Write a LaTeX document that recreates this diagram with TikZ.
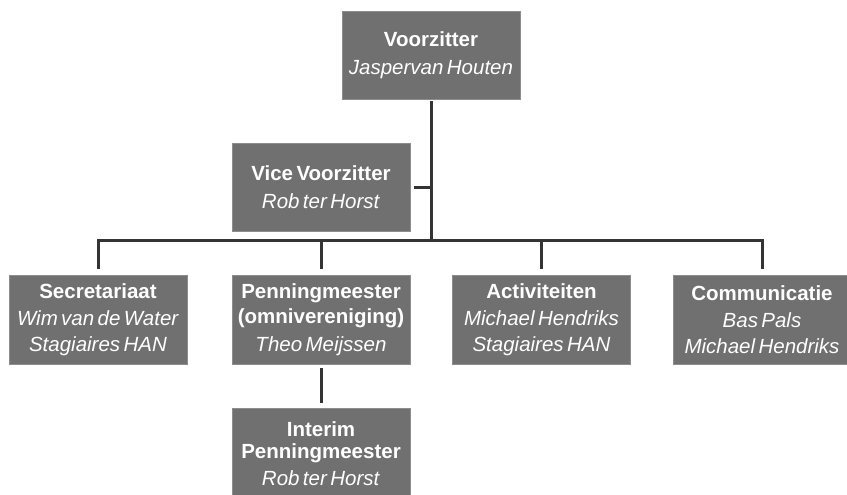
\documentclass[tikz,border=0pt]{standalone}
\usepackage{fontspec}
\setmainfont{Liberation Sans}[WordSpace=0.6]
\definecolor{boxgray}{RGB}{112,112,112}
\definecolor{linegray}{RGB}{52,52,52}
\tikzset{
  orgbox/.style={fill=boxgray, draw=boxgray!80!white, line width=0.8pt, minimum width=178pt, minimum height=88pt,
    inner sep=0pt, align=center, text=white, font=\fontsize{20.5}{27.5}\selectfont},
  conn/.style={draw=linegray, line width=3pt}
}
\begin{document}
\begin{tikzpicture}[x=1pt,y=-1pt]
\useasboundingbox (0,0) rectangle (847,495);
\fill[white] (0,0) rectangle (847,495);
\node[orgbox] (vz) at (431,55) {\textbf{Voorzitter}\\\textit{Jaspervan Houten}};
\node[orgbox] (vice) at (321,187) {\textbf{Vice Voorzitter}\\\textit{Rob ter Horst}};
\node[orgbox, minimum height=89pt] (sec) at (98,319.5) {\textbf{Secretariaat}\\\textit{Wim van de Water}\\[-2pt]\textit{Stagiaires HAN}};
\node[orgbox, minimum height=89pt] (pen) at (321,319.5) {\textbf{Penningmeester}\\[-2pt]\textbf{(omnivereniging)}\\\textit{Theo Meijssen}};
\node[orgbox, minimum height=89pt] (act) at (541.5,319.5) {\textbf{Activiteiten}\\\textit{Michael Hendriks}\\[-2pt]\textit{Stagiaires HAN}};
\node[orgbox, minimum height=89pt] (com) at (762,319.5) {\textbf{Communicatie}\\\textit{Bas Pals}\\[-2pt]\textit{Michael Hendriks}};
\node[orgbox, minimum height=92pt] (int) at (321,454) {\textbf{Interim}\\[-6pt]\textbf{Penningmeester}\\\textit{Rob ter Horst}};
\coordinate (bus) at (431,240);
\draw[conn, shorten <=2pt] (vz.south) -- (bus);
\draw[conn, shorten <=4pt] (vice.east) -- (vice.east -| bus);
\draw[conn, line cap=rect] (sec.north |- bus) -- (com.north |- bus);
\foreach \n in {sec,pen,act,com}{
  \draw[conn, shorten >=6pt] (\n.north |- bus) -- (\n.north);
}
\draw[conn, shorten <=4pt, shorten >=5pt] (pen.south) -- (int.north);
\end{tikzpicture}
\end{document}
